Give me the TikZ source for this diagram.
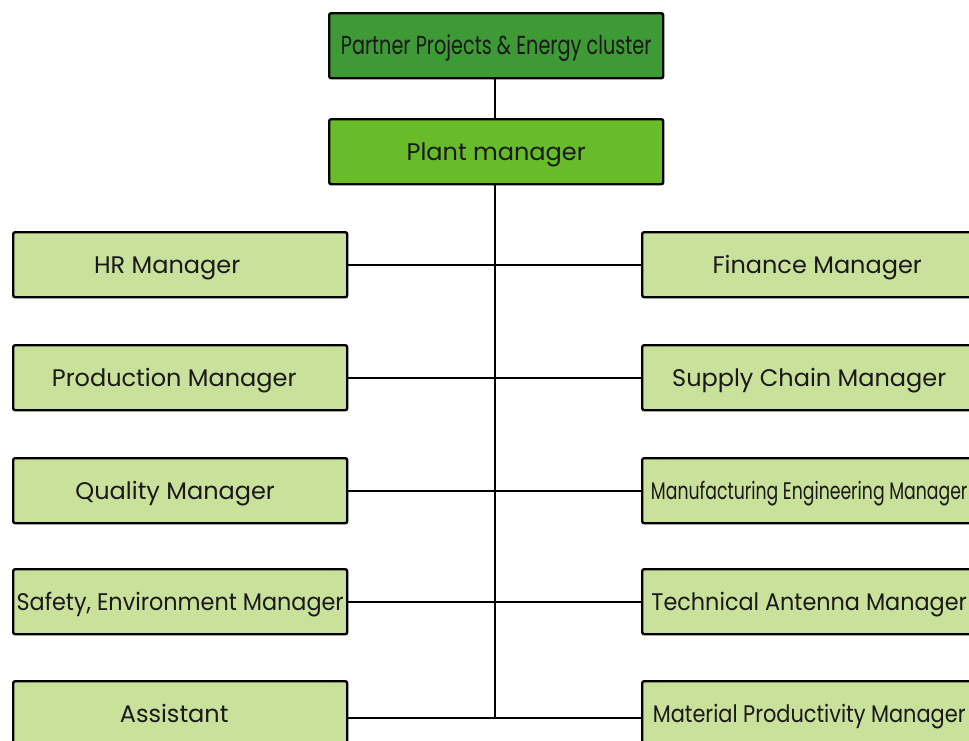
\documentclass[tikz,border=0pt]{standalone}
\usepackage{fontspec}
\setmainfont{Poppins}
\definecolor{topgreen}{RGB}{61,154,53}
\definecolor{plantgreen}{RGB}{104,188,42}
\definecolor{lightgreen}{RGB}{202,225,156}
\definecolor{ink}{RGB}{25,25,25}
\newcommand{\shx}[2]{\hspace*{#1}#2}
\tikzset{
  box/.style={draw=black, line width=2.4pt, rounded corners=2pt, fill=lightgreen,
    minimum width=334pt, minimum height=65pt, anchor=north west, inner sep=0pt,
    text height=22pt, text depth=4pt,
    text=ink, font=\fontsize{24}{28}\selectfont},
  conn/.style={draw=black, line width=1.8pt}
}
\begin{document}
\begin{tikzpicture}[x=1pt,y=-1pt]
\useasboundingbox (0,0) rectangle (969,740);
\clip (0,0) rectangle (969,740);
\fill[white] (0,0) rectangle (969,740);
\node[box, fill=topgreen, font=\fontsize{26}{30}\selectfont] (top) at (328,12) {\scalebox{0.74}[1]{Partner Projects \& Energy cluster}};
\node[box, fill=plantgreen] (plant) at (328,118) {Plant manager};
\node[box] (hr) at (12,231) {\shx{-26pt}{HR Manager}};
\node[box] (prod) at (12,344) {\shx{-12pt}{Production Manager}};
\node[box] (qual) at (12,457) {\shx{-10pt}{Quality Manager}};
\node[box] (safe) at (12,568) {\scalebox{0.93}[1]{Safety, Environment Manager}};
\node[box] (asst) at (12,680) {\shx{-12pt}{Assistant}};
\node[box] (fin) at (641,231) {\shx{16pt}{Finance Manager}};
\node[box] (sup) at (641,344) {Supply Chain Manager};
\node[box] (manu) at (641,457) {\scalebox{0.72}[1]{Manufacturing Engineering Manager}};
\node[box] (tech) at (641,568) {\scalebox{0.93}[1]{Technical Antenna Manager}};
\node[box] (mat) at (641,680) {\scalebox{0.87}[1]{Material Productivity Manager}};
\coordinate (bot) at (495,717);
\draw[conn] (top.south -| bot) -- (plant.north -| bot);
\draw[conn] (plant.south -| bot) -- (bot);
\draw[conn] (hr.east) -- (fin.west);
\draw[conn] (prod.east) -- (sup.west);
\draw[conn] (qual.east) -- (manu.west);
\draw[conn] (safe.east) -- (tech.west);
\draw[conn] ([yshift=-4.5pt]asst.east) -- ([yshift=-4.5pt]mat.west);
\end{tikzpicture}
\end{document}
